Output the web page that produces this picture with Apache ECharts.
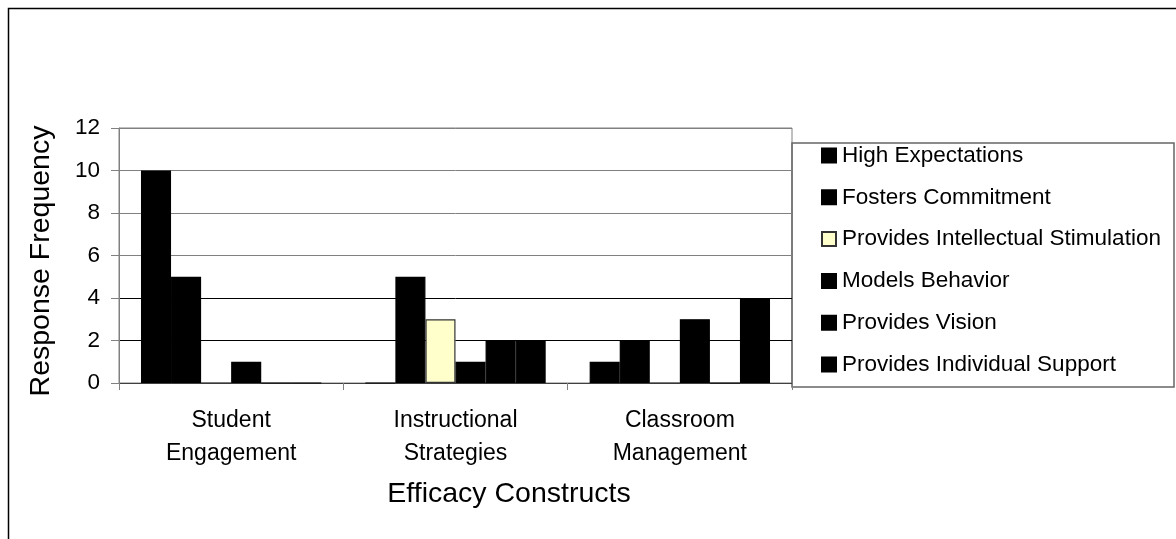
<!DOCTYPE html>
<html>
<head>
<meta charset="utf-8">
<script src="https://cdn.jsdelivr.net/npm/echarts@6/dist/echarts.min.js"></script>
<style>
  html, body { margin: 0; padding: 0; background: #fff; }
  #chart { width: 1176px; height: 539px; }
</style>
</head>
<body>
<div id="chart"></div>
<script>
// Efficacy constructs on the category axis
const categories = ['Student Engagement', 'Instructional Strategies', 'Classroom Management'];

// Response counts per leadership behaviour, one value per construct
const highExpectations = [10, 0, 1];
const fostersCommitment = [5, 5, 2];
const intellectualStimulation = [0, 3, 0];
const modelsBehavior = [1, 1, 3];
const providesVision = [0, 2, 0];
const individualSupport = [0, 2, 4];

const yTicks = [0, 2, 4, 6, 8, 10, 12];

const FONT = '"Liberation Sans", Arial, sans-serif';

const seriesDefs = [
  ['High Expectations', highExpectations, '#000000', '#000000'],
  ['Fosters Commitment', fostersCommitment, '#000000', '#000000'],
  ['Provides Intellectual Stimulation', intellectualStimulation, '#FFFFCC', '#333333'],
  ['Models Behavior', modelsBehavior, '#000000', '#000000'],
  ['Provides Vision', providesVision, '#000000', '#000000'],
  ['Provides Individual Support', individualSupport, '#000000', '#000000']
];

const chart = echarts.init(document.getElementById('chart'), null, { renderer: 'canvas' });

chart.setOption({
  animation: false,
  backgroundColor: '#fff',
  textStyle: { fontFamily: FONT },
  grid: {
    left: 119, right: 384, top: 128, bottom: 156,
    show: true, borderColor: '#808080', borderWidth: 1
  },
  xAxis: {
    type: 'category',
    data: categories,
    axisLine: { lineStyle: { color: '#404040', width: 1 } },
    axisTick: { show: true, length: 7, lineStyle: { color: '#808080' } },
    axisLabel: {
      color: '#000', fontSize: 23, fontFamily: FONT, lineHeight: 33, margin: 21,
      formatter: v => v.replace(' ', '\n')
    }
  },
  yAxis: {
    type: 'value',
    min: yTicks[0],
    max: yTicks[yTicks.length - 1],
    interval: yTicks[1] - yTicks[0],
    axisLine: { show: true, lineStyle: { color: '#808080', width: 1 } },
    axisTick: { show: true, length: 8, lineStyle: { color: '#808080' } },
    axisLabel: { color: '#000', fontSize: 22.5, fontFamily: FONT, margin: 19 },
    splitLine: { show: true, lineStyle: { color: ['#000', '#000', '#000', '#808080', '#808080', '#808080', '#808080'], width: 1 } }
  },
  legend: {
    orient: 'vertical',
    left: 821,
    top: 144,
    padding: 0,
    itemGap: 18.8,
    itemWidth: 14,
    itemHeight: 14,
    icon: 'rect',
    textStyle: { color: '#000', fontSize: 22.5, fontFamily: FONT, lineHeight: 22, padding: [0, 0, 0, 1] },
    data: seriesDefs.map(d => d[0])
  },
  graphic: [
    {
      type: 'rect', z: -10, silent: true,
      shape: { x: 8.5, y: 8.5, width: 1300, height: 700 },
      style: { fill: 'none', stroke: '#000', lineWidth: 1.5 }
    },
    {
      type: 'rect', z: 0, silent: true,
      shape: { x: 792, y: 143, width: 382, height: 244 },
      style: { fill: 'none', stroke: '#666', lineWidth: 1.5 }
    },
    {
      type: 'text', silent: true,
      x: 41, y: 261, rotation: Math.PI / 2,
      style: { text: 'Response Frequency', fill: '#000', font: '28.5px ' + FONT, align: 'center', verticalAlign: 'middle' }
    },
    {
      type: 'text', silent: true,
      x: 509, y: 494,
      style: { text: 'Efficacy Constructs', fill: '#000', font: '28.5px ' + FONT, align: 'center', verticalAlign: 'middle' }
    }
  ],
  series: seriesDefs.map(([name, values, fill, border]) => ({
    name,
    type: 'bar',
    data: values,
    barGap: '0%',
    barCategoryGap: '19.6%',
    itemStyle: { color: fill, borderColor: border, borderWidth: 1.2 }
  }))
});
</script>
</body>
</html>
